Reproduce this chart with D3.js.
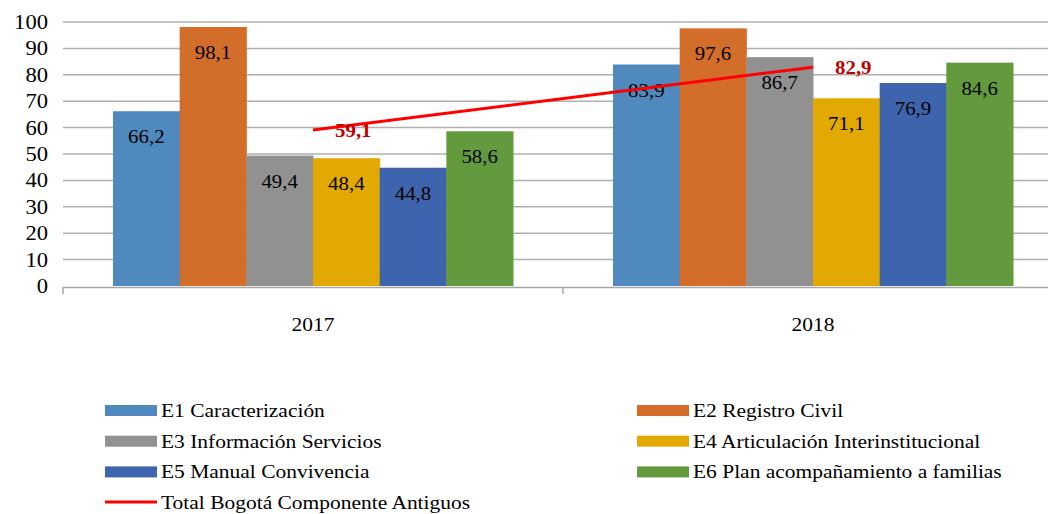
<!DOCTYPE html>
<html>
<head>
<meta charset="utf-8">
<script src="https://cdn.jsdelivr.net/npm/d3@7"></script>
<style>
  html, body { margin: 0; padding: 0; background: #fff; }
  svg { display: block; font-family: "Liberation Serif", "Times New Roman", serif; }
</style>
</head>
<body>
<div id="chart"></div>
<script>
// --- data ---
const YEARS = ["2017", "2018"];
const SERIES = [
  "E1 Caracterización",
  "E2 Registro Civil",
  "E3 Información Servicios",
  "E4 Articulación Interinstitucional",
  "E5 Manual Convivencia",
  "E6 Plan acompañamiento a familias"
];
const VALUES_2017 = [66.2, 98.1, 49.4, 48.4, 44.8, 58.6];
const VALUES_2018 = [83.9, 97.6, 86.7, 71.1, 76.9, 84.6];
const TOTAL_NAME = "Total Bogotá Componente Antiguos";
const TOTAL = [59.1, 82.9];
const Y_TICKS = [0, 10, 20, 30, 40, 50, 60, 70, 80, 90, 100];

const COLORS = ["#4f89bd", "#d36d2a", "#919191", "#e2aa00", "#3d64ad", "#629a3d"];

const W = 1048, H = 514;
const SX = 1.13; // the original text is a bit wider than plain Times
const fmt = v => String(v).replace(".", ",");

const svg = d3.select("#chart").append("svg")
  .attr("width", W).attr("height", H);

// place a text at (x,y) with the horizontal stretch
function addText(parent, x, y) {
  return parent.append("text")
    .attr("transform", `translate(${x},${y}) scale(${SX},1)`);
}

const x0 = d3.scaleBand().domain(YEARS).range([63, 1063]);
const x1 = d3.scaleBand().domain(SERIES).range([0, x0.bandwidth()])
  .paddingInner(0).paddingOuter(0.75);
const y = d3.scaleLinear().domain([0, 100]).range([286, 22]);

// gridlines
svg.append("g")
  .selectAll("line")
  .data(Y_TICKS.filter(d => d > 0))
  .join("line")
  .attr("x1", 63).attr("x2", W)
  .attr("y1", d => y(d)).attr("y2", d => y(d))
  .attr("stroke", "#b0b0b0").attr("stroke-width", 1.5);

// y axis labels
const yAxis = svg.append("g")
  .attr("transform", "translate(63,0)")
  .call(d3.axisLeft(y).tickValues(Y_TICKS).tickSize(0).tickPadding(15));
yAxis.select(".domain").remove();
yAxis.selectAll("text")
  .attr("font-family", "Liberation Serif")
  .attr("font-size", 20).attr("fill", "#000")
  .attr("transform", `scale(${SX},1)`)
  .attr("x", -15 / SX);

// bars
const rows = YEARS.map((yr, i) => ({
  year: yr,
  vals: SERIES.map((s, j) => ({ s, j, v: (i === 0 ? VALUES_2017 : VALUES_2018)[j] }))
}));

const groups = svg.append("g").selectAll("g")
  .data(rows).join("g")
  .attr("transform", d => `translate(${x0(d.year)},0)`);

groups.selectAll("rect")
  .data(d => d.vals).join("rect")
  .attr("x", d => x1(d.s))
  .attr("width", x1.bandwidth() + 0.5)
  .attr("y", d => y(d.v))
  .attr("height", d => y(0) - y(d.v))
  .attr("fill", d => COLORS[d.j]);

// x axis
const xAxis = svg.append("g")
  .attr("transform", `translate(0,${y(0) + 1})`)
  .call(d3.axisBottom(x0).tickSize(0).tickPadding(31).tickSizeOuter(0));
xAxis.select(".domain").attr("stroke", "#a6a6a6").attr("stroke-width", 1.5);
xAxis.selectAll("text")
  .attr("font-family", "Liberation Serif")
  .attr("font-size", 19).attr("fill", "#000")
  .attr("transform", `scale(${SX},1)`);
xAxis.selectAll(".tick")
  .attr("transform", d => `translate(${(x0(d) + x0.bandwidth() / 2)},0)`);
svg.append("g").selectAll("line")
  .data(YEARS.map(d => x0(d)).concat([x0.range()[1]]))
  .join("line")
  .attr("x1", d => d).attr("x2", d => d)
  .attr("y1", y(0) + 1).attr("y2", y(0) + 8)
  .attr("stroke", "#a6a6a6").attr("stroke-width", 1.5);

// total line
const cx = d => x0(d) + x0.bandwidth() / 2;
const line = d3.line().x((d, i) => cx(YEARS[i])).y(d => y(d));
svg.append("path")
  .datum(TOTAL)
  .attr("d", line)
  .attr("fill", "none")
  .attr("stroke", "#ff0000")
  .attr("stroke-width", 3);

// bar labels
groups.each(function (g) {
  const sel = d3.select(this);
  g.vals.forEach(d => {
    addText(sel, x1(d.s) + x1.bandwidth() / 2, y(d.v) + 32)
      .attr("text-anchor", "middle")
      .attr("font-size", 18.5)
      .attr("fill", "#000")
      .text(fmt(d.v));
  });
});

// total labels
const totalLabels = svg.append("g");
TOTAL.forEach((v, i) => {
  addText(totalLabels, cx(YEARS[i]) + 22, y(v) + 7)
    .attr("font-size", 18.5)
    .attr("font-weight", "bold")
    .attr("fill", "#c00000")
    .text(fmt(v));
});

// legend
const legendItems = SERIES.map((s, j) => ({ name: s, color: COLORS[j], col: j % 2, row: Math.floor(j / 2), type: "bar" }))
  .concat([{ name: TOTAL_NAME, color: "#ff0000", col: 0, row: 3, type: "line" }]);
const colX = [105, 637];
const legend = svg.append("g").selectAll("g")
  .data(legendItems).join("g")
  .attr("transform", d => `translate(${colX[d.col]},${410 + d.row * 30.7})`);
legend.filter(d => d.type === "bar").append("rect")
  .attr("x", 0).attr("y", -5).attr("width", 52).attr("height", 11)
  .attr("fill", d => d.color);
legend.filter(d => d.type === "line").append("line")
  .attr("x1", 0).attr("x2", 52).attr("y1", 0).attr("y2", 0)
  .attr("stroke", d => d.color).attr("stroke-width", 3);
legend.each(function (d) {
  addText(d3.select(this), 56, 7)
    .attr("font-size", 19)
    .attr("fill", "#000")
    .text(d.name);
});
</script>
</body>
</html>
